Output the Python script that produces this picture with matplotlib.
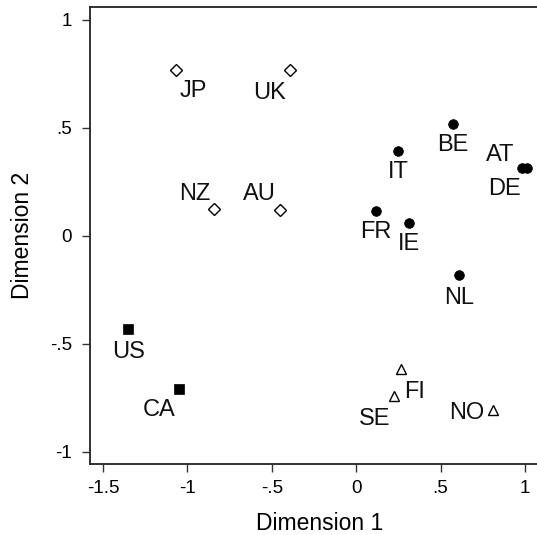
import matplotlib
matplotlib.use("Agg")
import matplotlib.pyplot as plt

# country positions on the two MDS dimensions
countries = ['JP', 'UK', 'NZ', 'AU', 'BE', 'IT', 'AT', 'DE', 'FR', 'IE',
             'NL', 'FI', 'SE', 'NO', 'US', 'CA']
dim1 = [-1.07, -0.39, -0.84, -0.45, 0.575, 0.25, 0.98, 1.01, 0.115, 0.315,
        0.61, 0.265, 0.225, 0.81, -1.35, -1.05]
dim2 = [0.77, 0.77, 0.125, 0.12, 0.52, 0.395, 0.315, 0.315, 0.115, 0.06,
        -0.18, -0.615, -0.74, -0.805, -0.43, -0.71]
group = ['liberal', 'liberal', 'liberal', 'liberal', 'conti', 'conti', 'conti',
         'conti', 'conti', 'conti', 'conti', 'nordic', 'nordic', 'nordic',
         'north_am', 'north_am']

xticks = [-1.5, -1, -0.5, 0, 0.5, 1]
xtick_labels = ['-1.5', '-1', '-.5', '0', '.5', '1']
yticks = [-1, -0.5, 0, 0.5, 1]
ytick_labels = ['-1', '-.5', '0', '.5', '1']

# marker style per group
styles = {
    'liberal': dict(marker='D', ms=6.5, mfc='white', mec='black', mew=1.0),
    'conti': dict(marker='o', ms=7, mfc='black', mec='black', mew=0.5),
    'nordic': dict(marker='^', ms=7, mfc='white', mec='black', mew=1.0),
    'north_am': dict(marker='s', ms=7, mfc='black', mec='black', mew=0.5),
}

# label offsets in pixels (right, down) from the marker
lab_off = {
    'JP': (18, 21), 'UK': (-21, 23), 'NZ': (-20, -15), 'AU': (-21, -16),
    'BE': (0, 21), 'IT': (0, 21), 'AT': (-21, -13), 'DE': (-22, 21),
    'FR': (0, 21), 'IE': (0, 21), 'NL': (0, 23), 'FI': (14, 23),
    'SE': (-20, 23), 'NO': (-26, 3), 'US': (0, 23), 'CA': (-20, 21),
}

plt.rcParams['font.family'] = ['Liberation Sans', 'DejaVu Sans']

fig = plt.figure(figsize=(5.37, 5.35), dpi=100)
ax = fig.add_axes([90 / 537, 71 / 535, 460 / 537, 457 / 535])

for i, c in enumerate(countries):
    ax.plot(dim1[i], dim2[i], linestyle='none', **styles[group[i]])
    dx, dy = lab_off[c]
    ax.annotate(c, (dim1[i], dim2[i]), xytext=(dx, -dy), textcoords='offset pixels',
                ha='center', va='center', fontsize=17, color='#111111')

ax.set_xlim(-1.577, 1.148)
ax.set_ylim(-1.056, 1.06)
ax.set_xticks(xticks)
ax.set_xticklabels(xtick_labels)
ax.set_yticks(yticks)
ax.set_yticklabels(ytick_labels)
ax.tick_params(axis='both', direction='out', length=5.8, width=1.0,
               labelsize=13.5, color='#333333')
ax.tick_params(axis='y', pad=7.0)
ax.tick_params(axis='x', pad=5.5)

for s in ['left', 'bottom', 'top']:
    ax.spines[s].set_linewidth(1.3)
    ax.spines[s].set_color('#222222')
ax.spines['right'].set_visible(False)

ax.set_xlabel('Dimension 1', fontsize=16.5, va='baseline')
ax.xaxis.set_label_coords(0.5, (464 - 530) / 457)
ax.set_ylabel('Dimension 2', fontsize=16.5, va='center')
ax.yaxis.set_label_coords((23 - 90) / 460, 0.5)

fig.savefig('out.png', dpi=100)
